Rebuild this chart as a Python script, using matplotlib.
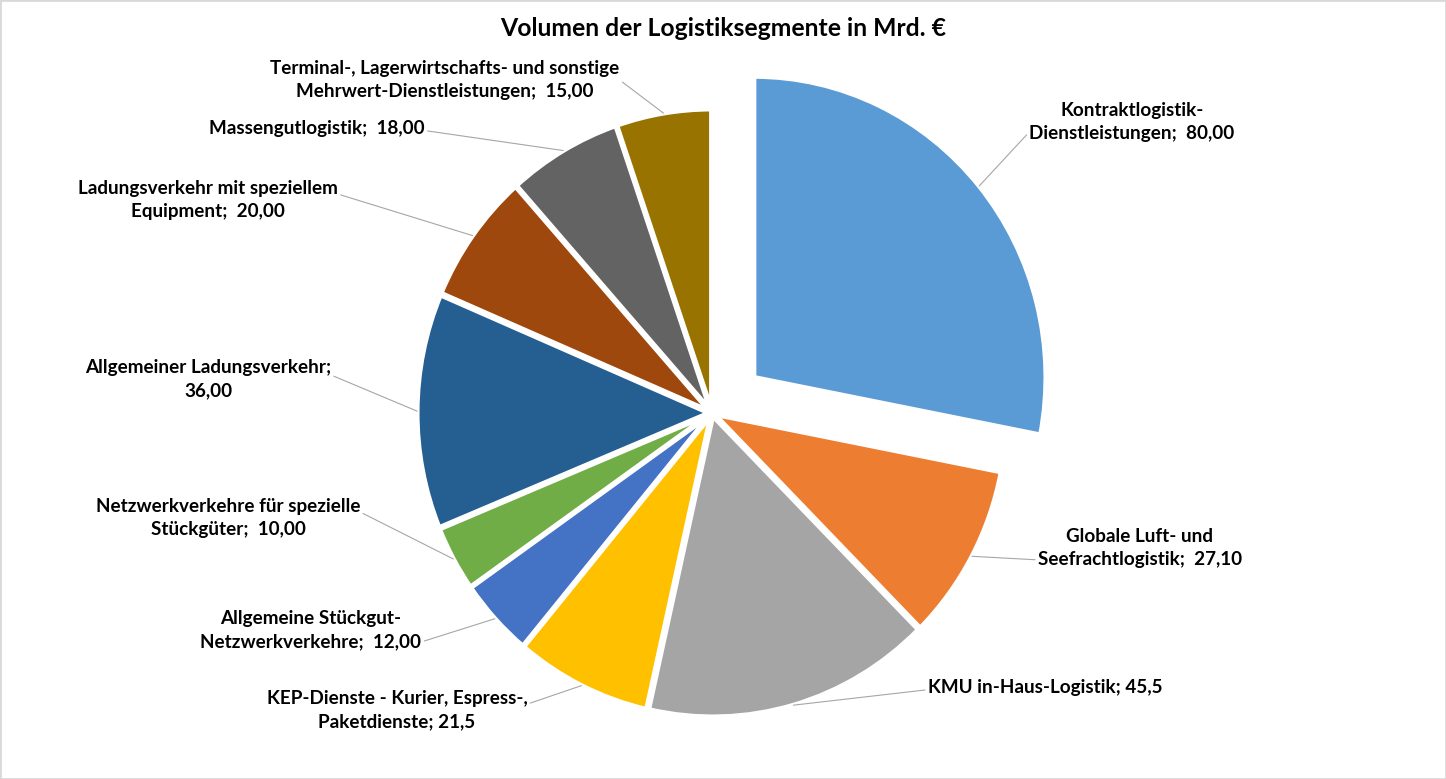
import numpy as np
import matplotlib
matplotlib.use("Agg")
import matplotlib.pyplot as plt
from matplotlib.patches import Rectangle

# data, clockwise from 12 o'clock
segments = [
    "Kontraktlogistik-\nDienstleistungen;  80,00",
    "Globale Luft- und\nSeefrachtlogistik;  27,10",
    "KMU in-Haus-Logistik; 45,5",
    "KEP-Dienste - Kurier, Espress-,\nPaketdienste; 21,5",
    "Allgemeine Stückgut-\nNetzwerkverkehre;  12,00",
    "Netzwerkverkehre für spezielle\nStückgüter;  10,00",
    "Allgemeiner Ladungsverkehr;\n36,00",
    "Ladungsverkehr mit speziellem\nEquipment;  20,00",
    "Massengutlogistik;  18,00",
    "Terminal-, Lagerwirtschafts- und sonstige\nMehrwert-Dienstleistungen;  15,00",
]
volumes = [80.0, 27.1, 45.5, 21.5, 12.0, 10.0, 36.0, 20.0, 18.0, 15.0]
colors = ["#5B9BD5", "#ED7D31", "#A5A5A5", "#FFC000", "#4472C4",
          "#70AD47", "#255E91", "#9E480E", "#636363", "#997300"]
title = "Volumen der Logistiksegmente in Mrd. €"

# layout (pixels of the 1446x779 canvas)
W, H = 1446, 779
sx = 0.97  # pie is slightly narrower than tall in the original
label_pos = [(1132, 122), (1140, 548), (1045, 688), (397, 710), (311, 630),
             (228, 518), (208, 379), (208, 200), (317, 128), (445, 80)]
label_rel = [(0, 0.25), (0, 0.2), (0, 0.4), (1, 0.65), (1, 0.2),
             (1, 0.65), (1, 0.6), (1, 0.65), (1, 0.35), (1, 0.5)]


def px(x, y):
    return x / sx, H - y


plt.rcParams['font.family'] = ['Lato', 'DejaVu Sans']

fig = plt.figure(figsize=(W / 100, H / 100), dpi=100)
ax = fig.add_axes([0, 0, 1, 1])

center = px(712, 413)
radius = 301
explode = [56] + [3] * (len(volumes) - 1)
wedges, _ = ax.pie(volumes, colors=colors, startangle=90, counterclock=False,
                   center=center, radius=radius, explode=explode,
                   wedgeprops=dict(edgecolor="white", linewidth=3.5))

ax.set_aspect('auto')
ax.set_xlim(0, W / sx)
ax.set_ylim(0, H)
ax.axis('off')

for w, text, pos, rel in zip(wedges, segments, label_pos, label_rel):
    ang = np.deg2rad((w.theta1 + w.theta2) / 2)
    cx, cy = w.center
    tip = (cx + w.r * np.cos(ang), cy + w.r * np.sin(ang))
    ax.annotate(text, xy=tip, xytext=px(*pos), ha="center", va="center",
                fontsize=13.6, fontweight="bold", color="black",
                linespacing=1.4,
                arrowprops=dict(arrowstyle="-", color="#A6A6A6", lw=0.8,
                                shrinkA=0, shrinkB=0, relpos=rel))

fig.text(723 / W, 1 - 28 / H, title, ha="center", va="center",
         fontsize=17.8, fontweight="bold", color="black")

fig.patches.append(Rectangle((0, 0), 1, 1, transform=fig.transFigure,
                             fill=False, edgecolor="#D9D9D9", lw=2))

fig.savefig("out.png", dpi=100)
